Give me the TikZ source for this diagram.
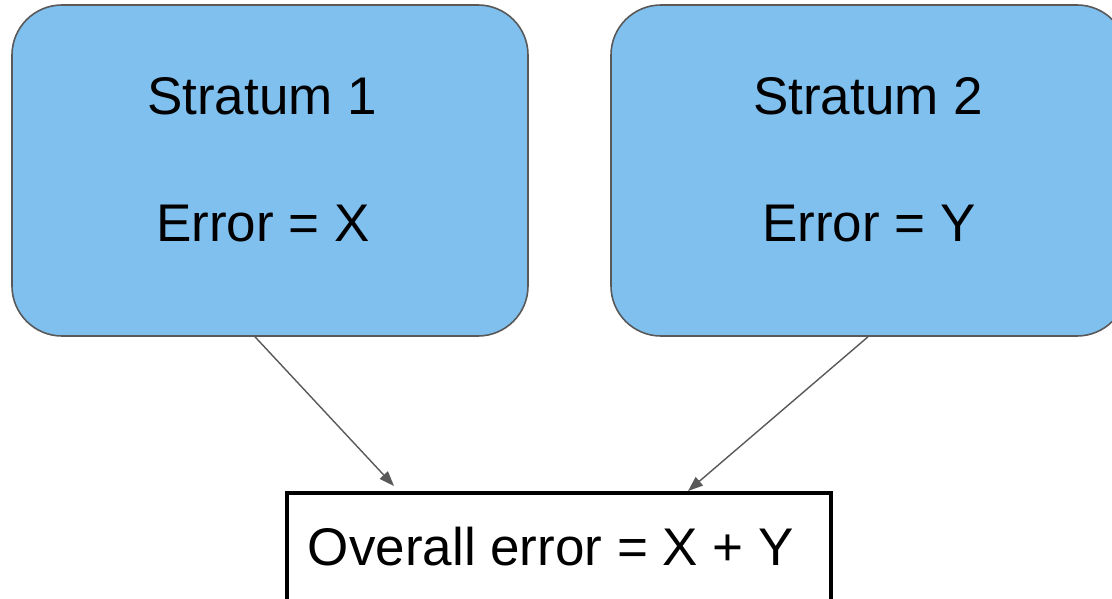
\documentclass[tikz,border=0pt]{standalone}
\usepackage{fontspec}
\setmainfont{Liberation Sans}
\usetikzlibrary{arrows.meta,calc}
\definecolor{boxfill}{HTML}{7FC0EE}
\definecolor{boxline}{HTML}{595959}
\definecolor{arrowgray}{HTML}{595959}
\tikzset{
  stratum/.style={draw=boxline, fill=boxfill, line width=1.6pt, rounded corners=50pt,
    minimum width=516pt, minimum height=331pt, inner sep=0pt},
  total/.style={draw=black, fill=white, line width=4.5pt, minimum width=544pt,
    minimum height=109pt, inner sep=0pt},
  bigtext/.style={font=\fontsize{53}{60}\selectfont, anchor=base, inner sep=0pt},
  link/.style={draw=arrowgray, line width=1.4pt,
    -{Triangle[length=15pt, width=11pt]}}
}
\begin{document}
\begin{tikzpicture}[x=1pt, y=1pt]
  \useasboundingbox (0,0) rectangle (1112,598);
  \clip (0,0) rectangle (1112,598);
  \fill[white] (0,0) rectangle (1112,598);

  % two strata
  \node[stratum] (s1) at (270,427.5) {};
  \node[stratum] (s2) at (869,427.5) {};
  \node[bigtext] (s1title) at (262,483) {Stratum 1};
  \node[bigtext] (s1err) at (263,356) {Error = X};
  \node[bigtext] (s2title) at (868,483) {Stratum 2};
  \node[bigtext] (s2err) at (869,356) {Error = Y};

  % combined result
  \node[total] (sum) at (559,50.5) {};
  \node[bigtext] (sumtext) at (551,33) {Overall error = X + Y};

  % connectors
  \coordinate (a1) at ($(s1.south)+(-15,0)$);
  \coordinate (b1) at (394,112);
  \coordinate (a2) at ($(s2.south)+(-1,0)$);
  \coordinate (b2) at (688,107);
  \draw[link] (a1) -- (b1);
  \draw[link] (a2) -- (b2);
\end{tikzpicture}
\end{document}
